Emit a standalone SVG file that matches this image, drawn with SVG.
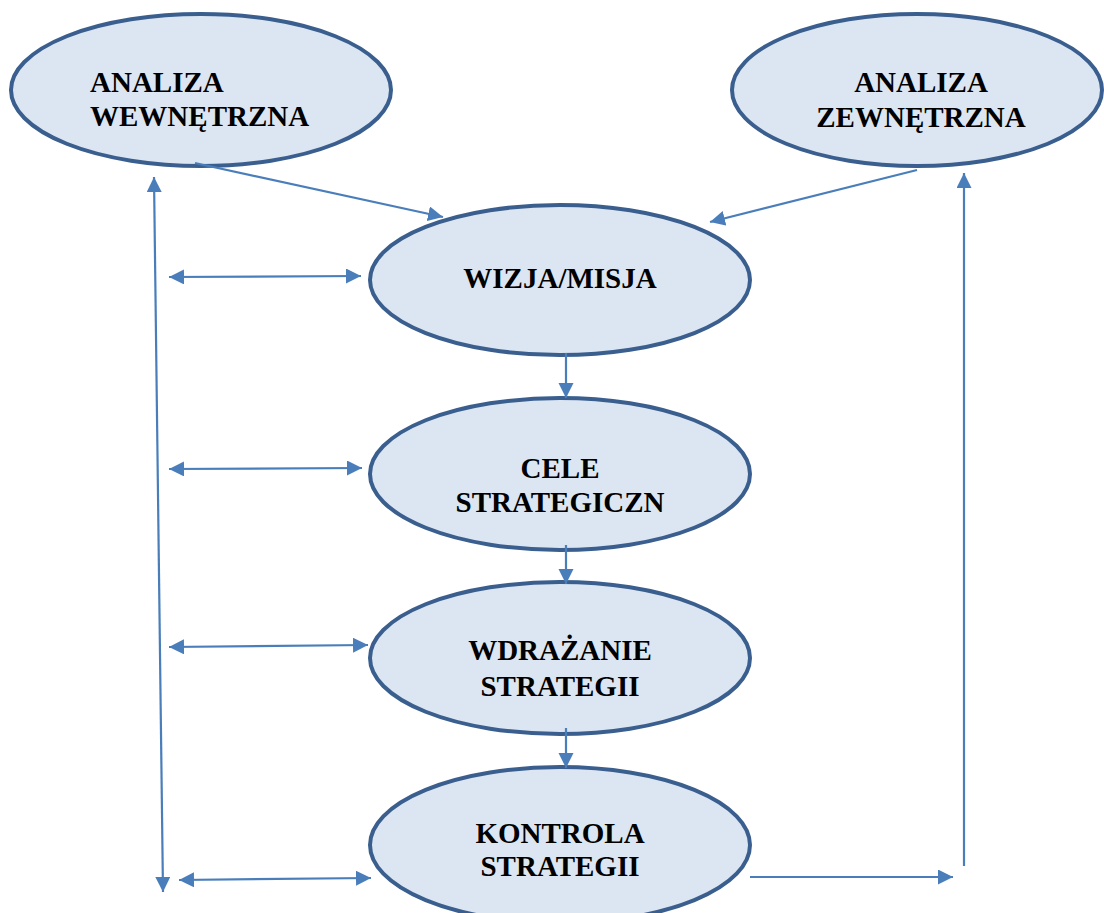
<svg xmlns="http://www.w3.org/2000/svg" width="1104" height="913" viewBox="0 0 1104 913">
<style>
.node ellipse{fill:#DCE6F2;stroke:#3A5F8F;stroke-width:4}
.node text{font-family:"Liberation Serif","Times New Roman",serif;font-weight:bold;font-size:29px;fill:#000}
.c line{stroke:#4A7EBB;stroke-width:2.2;fill:none}
</style>
<defs>
<marker id="ah" markerUnits="userSpaceOnUse" markerWidth="16" markerHeight="16" refX="15" refY="7.5" orient="auto-start-reverse">
<path d="M0,0 L15,7.5 L0,15 Z" fill="#4A7EBB"/>
</marker>
</defs>
<rect width="1104" height="913" fill="#fff"/>
<g id="n-wew" class="node">
<ellipse cx="201" cy="90" rx="190" ry="76"/>
<text x="90" y="92">ANALIZA</text>
<text x="90" y="126">WEWNĘTRZNA</text>
</g>
<g id="n-zew" class="node">
<ellipse cx="917" cy="90" rx="185" ry="76"/>
<text x="921" y="92" text-anchor="middle">ANALIZA</text>
<text x="921" y="127" text-anchor="middle">ZEWNĘTRZNA</text>
</g>
<g id="n-wizja" class="node">
<ellipse cx="560" cy="280" rx="190" ry="75"/>
<text x="560" y="288" text-anchor="middle">WIZJA/MISJA</text>
</g>
<g id="n-cele" class="node">
<ellipse cx="560" cy="474" rx="190" ry="76"/>
<text x="560" y="478" text-anchor="middle">CELE</text>
<text x="560" y="512" text-anchor="middle">STRATEGICZN</text>
</g>
<g id="n-wdr" class="node">
<ellipse cx="560" cy="658" rx="190" ry="76"/>
<text x="560" y="660" text-anchor="middle">WDRAŻANIE</text>
<text x="560" y="696" text-anchor="middle">STRATEGII</text>
</g>
<g id="n-kontrola" class="node">
<ellipse cx="560" cy="845" rx="190" ry="78"/>
<text x="560" y="843" text-anchor="middle">KONTROLA</text>
<text x="560" y="876" text-anchor="middle">STRATEGII</text>
</g>
<g id="connectors" class="c">
<line x1="195" y1="163" x2="443" y2="217" marker-end="url(#ah)"/>
<line x1="917" y1="170" x2="710" y2="222" marker-end="url(#ah)"/>
<line x1="154" y1="177" x2="163" y2="892" marker-start="url(#ah)" marker-end="url(#ah)"/>
<line x1="169" y1="277" x2="361" y2="276" marker-start="url(#ah)" marker-end="url(#ah)"/>
<line x1="169" y1="469" x2="362" y2="468" marker-start="url(#ah)" marker-end="url(#ah)"/>
<line x1="169" y1="647" x2="368" y2="645" marker-start="url(#ah)" marker-end="url(#ah)"/>
<line x1="179" y1="880" x2="371" y2="878" marker-start="url(#ah)" marker-end="url(#ah)"/>
<line x1="566" y1="353" x2="566" y2="398" marker-end="url(#ah)"/>
<line x1="566" y1="545" x2="566" y2="584" marker-end="url(#ah)"/>
<line x1="566" y1="728" x2="566" y2="768" marker-end="url(#ah)"/>
<line x1="750" y1="877" x2="953" y2="877" marker-end="url(#ah)"/>
<line x1="964" y1="866" x2="964" y2="173" marker-end="url(#ah)"/>
</g>
</svg>
